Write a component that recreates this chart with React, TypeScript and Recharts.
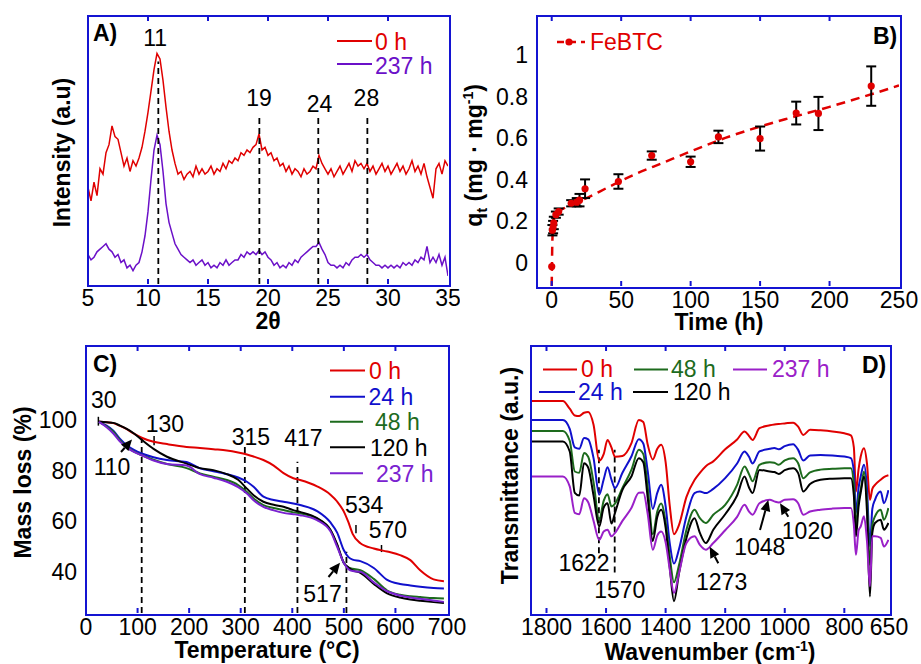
import React from "react";
import {
  LineChart,
  ComposedChart,
  Line,
  Scatter,
  ErrorBar,
  XAxis,
  YAxis,
  ReferenceLine,
  ReferenceDot,
} from "recharts";

// ---- A) XRD ----
const xrdAngle = [
  5, 5.25, 5.5, 5.75, 6, 6.25, 6.5, 6.75, 7, 7.25, 7.5, 7.75, 8, 8.25, 8.5, 8.75, 9, 9.25, 9.5, 9.75,
  10, 10.25, 10.5, 10.75, 11, 11.25, 11.5, 11.75, 12, 12.25, 12.5, 12.75, 13, 13.25, 13.5, 13.75, 14, 14.25, 14.5, 14.75,
  15, 15.25, 15.5, 15.75, 16, 16.25, 16.5, 16.75, 17, 17.25, 17.5, 17.75, 18, 18.25, 18.5, 18.75, 19, 19.25, 19.5, 19.75,
  20, 20.25, 20.5, 20.75, 21, 21.25, 21.5, 21.75, 22, 22.25, 22.5, 22.75, 23, 23.25, 23.5, 23.75, 24, 24.25, 24.5, 24.75,
  25, 25.25, 25.5, 25.75, 26, 26.25, 26.5, 26.75, 27, 27.25, 27.5, 27.75, 28, 28.25, 28.5, 28.75, 29, 29.25, 29.5, 29.75,
  30, 30.25, 30.5, 30.75, 31, 31.25, 31.5, 31.75, 32, 32.25, 32.5, 32.75, 33, 33.25, 33.5, 33.75, 34, 34.25, 34.5, 34.75,
  35,
];
const xrd0h = [
  36, 31, 38, 33, 43, 41, 49, 52, 59, 55, 54, 49, 44, 47, 42, 46, 44, 47, 51, 57,
  64, 72, 80, 86, 84, 76, 66, 57, 50, 45, 41, 42, 39, 41, 42, 40, 44, 41, 43, 41,
  42, 44, 41, 43, 42, 45, 43, 46, 45, 47, 46, 49, 48, 50, 49, 51, 52, 56, 50, 51,
  48, 49, 46, 47, 44, 45, 42, 44, 41, 43, 42, 40, 43, 41, 42, 44, 43, 48, 45, 43,
  41, 43, 40, 42, 44, 41, 43, 45, 42, 46, 44, 45, 43, 45, 42, 44, 41, 43, 45, 42,
  44, 41, 43, 45, 42, 44, 41, 43, 46, 42, 44, 41, 45, 40, 36, 32, 43, 45, 41, 46,
  44,
];
const xrd237h = [
  11, 9, 10, 12, 13, 14, 15, 13, 12, 10, 11, 8, 9, 6, 7, 5, 7, 8, 12, 18,
  27, 39, 50, 55.5, 52, 42, 30, 23, 19, 15, 13, 11, 10, 9, 8, 9, 7, 8, 9, 7,
  8, 6, 7, 6, 8, 7, 9, 7, 8, 9, 9, 11, 10, 12, 11, 12, 11, 12.5, 11, 12,
  10, 9, 7, 8, 6, 7, 6, 8, 7, 9, 8, 10, 11, 12, 13, 14, 14, 15.5, 13, 11,
  8, 7, 7, 6, 7, 6, 8, 7, 9, 10, 10, 11, 10, 11, 9, 8, 7, 7, 6, 7,
  6, 7, 6, 7, 6, 8, 7, 8, 7, 9, 8, 10, 9, 14, 8, 10, 8, 11, 7, 10,
  3,
];
const xrdTicks = [5, 10, 15, 20, 25, 30, 35];

// ---- B) uptake kinetics ----
const kinTime = [0, 0.5, 1, 1.5, 3, 5, 14, 18, 20, 24, 48, 72, 100, 120, 150, 176, 192, 230];
const kinQ = [-0.02, 0.155, 0.17, 0.19, 0.23, 0.245, 0.285, 0.29, 0.3, 0.355, 0.39, 0.515, 0.485, 0.605, 0.597, 0.72, 0.718, 0.85];
const kinErr = [null, 0.025, 0.03, 0.03, 0.015, 0.015, 0.015, 0.02, 0.03, 0.045, 0.035, 0.02, 0.025, 0.03, 0.058, 0.055, 0.08, 0.095];
const fitTime = [0, 0.3, 0.7, 1.2, 2, 3.5, 6, 10, 16, 25, 40, 60, 80, 100, 125, 150, 175, 200, 225, 250];
const fitQ = [-0.114, 0.05, 0.15, 0.2, 0.225, 0.24, 0.25, 0.265, 0.285, 0.31, 0.36, 0.425, 0.48, 0.535, 0.6, 0.655, 0.703, 0.75, 0.8, 0.853];
const kinTicksX = [0, 50, 100, 150, 200, 250];
const kinTicksY = [0, 0.2, 0.4, 0.6, 0.8, 1];

// ---- C) TGA ----
const tgaTemp = [25, 40, 53, 66, 79, 93, 108, 131, 157, 195, 221, 247, 273, 295, 312, 325, 344, 364, 383, 402, 415, 448, 474, 487, 500, 509, 517, 532, 558, 584, 609, 629, 648, 674, 694];
const tga0h = [99.3, 99.1, 98.8, 97.7, 96.4, 94.6, 93, 91.4, 90.5, 89.4, 89, 88.5, 88, 87.2, 86.4, 85.6, 84.2, 82, 79, 77, 76.3, 73.8, 70.5, 67.8, 63.8, 59.5, 55, 51.3, 49.2, 48, 46.6, 44.6, 40.6, 37, 36.3];
const tga24h = [99.3, 97.8, 95.8, 92.5, 90, 88.2, 86.8, 85.3, 84.2, 83.4, 80.9, 79.8, 78.6, 77.3, 75.6, 73.6, 69.7, 68.4, 67.7, 67, 66.4, 64, 59.5, 55.5, 48.5, 45.8, 44.8, 44.2, 41.5, 36.8, 35.2, 34.6, 34.1, 33.6, 33.4];
const tga48h = [99.3, 97.5, 95.4, 92, 89.4, 87.5, 86.1, 84.3, 82.6, 81, 78.9, 77.6, 76.3, 74.3, 71.6, 69, 66.4, 65.2, 64.4, 63.5, 63.1, 61, 56.5, 50.5, 43.5, 41.6, 41.2, 40.6, 37.2, 32.6, 30.9, 30.3, 30, 29.6, 29.4];
const tga120h = [99.4, 99.1, 98.9, 97.8, 96.5, 94.7, 92.2, 88.6, 85.5, 82.8, 81, 80.2, 78.6, 76.4, 72.9, 70.3, 67.7, 66.5, 65.7, 64.4, 63.7, 61.2, 56.5, 50.8, 43.5, 41.7, 40.6, 39.6, 35.2, 31.5, 29.8, 29, 28.5, 28, 27.7];
const tga237h = [99.3, 97.2, 94.7, 91.5, 89.2, 87.4, 86.1, 84, 82.6, 82, 78.6, 77.2, 75.6, 73.5, 71, 68.3, 65.7, 64.3, 63.3, 62.8, 62.4, 60.4, 56, 49.9, 43.5, 41, 40.3, 40, 35.8, 32.3, 30.6, 29.8, 29.3, 28.6, 28.1];
const tgaTicksX = [0, 100, 200, 300, 400, 500, 600, 700];
const tgaTicksY = [40, 60, 80, 100];

// ---- D) FTIR ----
const irWave = [
  1852, 1745, 1722, 1705, 1690, 1674, 1660, 1642, 1623, 1608, 1595, 1582, 1570, 1545, 1515, 1490, 1475, 1460, 1443, 1428,
  1415, 1400, 1386, 1372, 1355, 1330, 1303, 1285, 1265, 1240, 1200, 1160, 1135, 1120, 1108, 1085, 1050, 1035, 1020, 1000,
  972, 955, 938, 915, 880, 840, 800, 778, 768, 761, 752, 745, 734, 724, 714, 706, 697, 678, 667, 652,
];
const ir0h = [
  79.4, 79.4, 76.5, 74, 73.8, 75, 75.3, 70.5, 57, 59.5, 64.8, 62, 58.5, 58.8, 63.5, 72.3, 71.5, 63, 57.5, 61.5,
  63, 56.5, 40, 29.5, 33, 43.5, 49.8, 52.5, 55, 56.8, 61.3, 65, 68, 66.3, 64.8, 69.2, 70.3, 70.6, 70.8, 71,
  71.3, 69.8, 66.7, 68.6, 68.4, 68, 67.3, 66.5, 62, 45.5, 54, 58.6, 61.7, 56, 42.4, 46.5, 48, 49.9, 50.9, 51.6,
];
const ir24h = [
  72.3, 72.3, 69, 62, 61.5, 65.5, 65, 58, 44.3, 50, 54.6, 50, 46.8, 52.5, 58.6, 65.1, 63.5, 53, 39, 45,
  48, 40, 26, 18.5, 24, 36.2, 44.9, 45.5, 44.9, 46.5, 50.5, 56, 60.5, 58.5, 56, 60.5, 61.5, 61.8, 61.3, 62.5,
  63.2, 61.1, 57.1, 59, 59.2, 59, 58.6, 58, 53, 37.4, 47, 51.1, 55.5, 47, 25, 39, 42.4, 45.5, 41.1, 46,
];
const ir48h = [
  68.2, 68.2, 64.5, 53, 52.5, 59.9, 58.5, 49, 34.9, 42, 44.5, 39.9, 41, 46.8, 53.6, 61.1, 59.5, 47, 29.5, 38,
  41, 34, 21, 11.5, 18, 31.2, 38.7, 35.5, 33.7, 36.8, 40.5, 48, 54.9, 52, 49.3, 55.5, 56.5, 56.3, 55.5, 57.2,
  58, 56.1, 50.5, 52.7, 53.7, 54, 54.2, 54.2, 48, 32.4, 43, 46.1, 53, 42, 18, 33, 36.2, 38.7, 34.9, 39.3,
];
const ir120h = [
  64.2, 64.2, 60.5, 45, 44, 56.1, 54.5, 44, 32.4, 39.5, 41.1, 33.5, 37.5, 46.1, 51.1, 58, 56.5, 43, 27, 36,
  38.7, 32, 17, 4.4, 15, 28.1, 35.5, 30, 26.2, 31.2, 37, 44, 51.1, 47, 44.9, 53.6, 53, 52.8, 52.1, 53.5,
  54.2, 52.4, 45.5, 48.3, 49.9, 50.3, 50.5, 50.5, 44, 28.7, 40, 45, 51.1, 38, 6.2, 30, 33.7, 34.9, 31.2, 33.7,
];
const ir237h = [
  51.1, 51.1, 47.4, 37.5, 37, 43, 41.5, 34.5, 27.4, 30.5, 31.2, 28.7, 30, 34.5, 39.3, 45, 45.1, 37, 23.7, 29,
  30.5, 26.5, 16.2, 7.5, 15, 26.2, 28.7, 25.5, 23.7, 26.2, 31, 36, 40.5, 38, 36.8, 41.1, 42.4, 41.8, 41.4, 42.4,
  42.6, 41.1, 36.8, 38, 38.7, 39.1, 39.3, 39.3, 33, 21.8, 31, 32.4, 36.2, 27, 10, 28.7, 28.7, 28.1, 24.9, 27.4,
];
const irTicksX = [1800, 1600, 1400, 1200, 1000, 800, 650];

const FONT = "'Liberation Sans', Arial, sans-serif";
const FRAME = "rgb(20, 20, 210)";
const RED = "#e00000";
const BLUE = "#1010cc";
const GREEN = "#1d6b1d";
const PURPLE_A = "#6b10c8";
const PURPLE_C = "#7a22d0";
const PURPLE_D = "#9a20c8";

const xrdRows = xrdAngle.map((a, i) => ({ a, r: xrd0h[i], p: xrd237h[i] }));
const kinRows = kinTime.map((t, i) => ({ t, q: kinQ[i], err: kinErr[i] }));
const fitRows = fitTime.map((t, i) => ({ t, q: fitQ[i] }));
const tgaRows = tgaTemp.map((T, i) => ({ T, h0: tga0h[i], h24: tga24h[i], h48: tga48h[i], h120: tga120h[i], h237: tga237h[i] }));
const irRows = irWave.map((w, i) => ({ w, h0: ir0h[i], h24: ir24h[i], h48: ir48h[i], h120: ir120h[i], h237: ir237h[i] }));

// annotation positions (data coordinates)
const xrdMarks = [
  { x: 10.86, top: 83, lx: 10.6, ly: 91.8, text: "11" },
  { x: 19.28, top: 63, lx: 19.26, ly: 69.5, text: "19" },
  { x: 24.19, top: 62.3, lx: 24.3, ly: 67.4, text: "24" },
  { x: 28.28, top: 63, lx: 28.2, ly: 69.5, text: "28" },
];
const tgaDashes = [
  { x: 108, top: 93.1 },
  { x: 308, top: 90 },
  { x: 410, top: 83.5 },
  { x: 505, top: 47.9 },
];
const tgaTicks = [
  { x: 24, y1: 97.8, y2: 101.3 },
  { x: 132, y1: 90, y2: 93.7 },
  { x: 523.5, y1: 55.2, y2: 58.5 },
  { x: 573, y1: 47.8, y2: 50.6 },
];
const tgaLabels = [
  { x: 34.3, y: 107.9, text: "30" },
  { x: 153, y: 98.7, text: "130" },
  { x: 50.4, y: 81.6, text: "110" },
  { x: 319.6, y: 93.6, text: "315" },
  { x: 421.4, y: 92.9, text: "417" },
  { x: 539.4, y: 66.4, text: "534" },
  { x: 585.3, y: 56.5, text: "570" },
  { x: 458.6, y: 31.5, text: "517" },
];
const irDashes = [
  { x: 1624, y1: 22.4, y2: 61.1 },
  { x: 1571, y1: 15.2, y2: 61.1 },
];
const irLabels = [
  { x: 1674, y: 18.9, text: "1622" },
  { x: 1554, y: 8.6, text: "1570" },
  { x: 1212, y: 11.7, text: "1273" },
  { x: 1084, y: 24.8, text: "1048" },
  { x: 924, y: 30.9, text: "1020" },
];

// plot boxes in page pixels: [left, top, right, bottom]
const frames = [
  [88, 16, 448, 284],
  [537, 16, 899, 286],
  [86, 346, 447, 613],
  [531, 346, 889, 613],
];

const makeXTick = (top: number, edges: number[]) => (props: any) => {
  const { x, y, payload } = props;
  const v = payload.value;
  const inner = !edges.includes(v);
  return (
    <g>
      {inner && <path d={`M${x},${y}V${y - 5}`} stroke="rgb(20, 20, 210)" strokeWidth={2} fill="none" />}
      {inner && <path d={`M${x},${top}V${top + 5}`} stroke="rgb(20, 20, 210)" strokeWidth={2} fill="none" />}
      <text x={x} y={y + 22} textAnchor="middle" fontFamily={FONT} fontSize={23} fill="#000">
        {v}
      </text>
    </g>
  );
};

const tag = (key: string, x: number, y: number, text: string) => (
  <ReferenceDot
    key={key}
    x={x}
    y={y}
    r={0}
    ifOverflow="visible"
    shape={(p: any) => (
      <text x={p.cx} y={p.cy} dy="0.36em" textAnchor="middle" fontFamily={FONT} fontSize={23} fill="#000">
        {text}
      </text>
    )}
  />
);

const seg = (key: string, x: number, y1: number, y2: number, dashed = true) => (
  <ReferenceLine
    key={key}
    segment={[{ x, y: y1 }, { x, y: y2 }]}
    stroke="#000"
    strokeWidth={dashed ? 1.8 : 1.5}
    strokeDasharray={dashed ? "6 4" : undefined}
    ifOverflow="visible"
  />
);

const yTick = { fill: "#000", fontSize: 23, fontFamily: FONT };

function Txt({ x, y, color = "#000", bold = false, children }: any) {
  return (
    <div
      style={{
        position: "absolute",
        left: x,
        top: y - 11.5,
        fontFamily: FONT,
        fontSize: 23,
        lineHeight: "23px",
        color,
        fontWeight: bold ? 700 : 400,
        whiteSpace: "nowrap",
      }}
    >
      {children}
    </div>
  );
}

function VTxt({ x, y, w, children }: any) {
  return (
    <div
      style={{
        position: "absolute",
        left: x - w / 2,
        top: y - 11.5,
        width: w,
        textAlign: "center",
        fontFamily: FONT,
        fontSize: 23,
        lineHeight: "23px",
        fontWeight: 700,
        whiteSpace: "nowrap",
        transform: "rotate(-90deg)",
      }}
    >
      {children}
    </div>
  );
}

function CTxt({ x, y, children }: any) {
  return (
    <div
      style={{
        position: "absolute",
        left: x - 150,
        top: y - 11.5,
        width: 300,
        textAlign: "center",
        fontFamily: FONT,
        fontSize: 23,
        lineHeight: "23px",
        fontWeight: 700,
        whiteSpace: "nowrap",
      }}
    >
      {children}
    </div>
  );
}

function Arrow({ x1, y1, x2, y2 }: any) {
  const dx = x2 - x1;
  const dy = y2 - y1;
  const len = Math.hypot(dx, dy);
  const ux = dx / len;
  const uy = dy / len;
  const bx = x2 - ux * 11;
  const by = y2 - uy * 11;
  const nx = -uy * 5;
  const ny = ux * 5;
  return (
    <g>
      <line x1={x1} y1={y1} x2={bx} y2={by} stroke="#000" strokeWidth={2} />
      <polygon points={`${x2},${y2} ${bx + nx},${by + ny} ${bx - nx},${by - ny}`} fill="#000" />
    </g>
  );
}

const sup: React.CSSProperties = { fontSize: 14, verticalAlign: "super", lineHeight: 0 };
const sub: React.CSSProperties = { fontSize: 15, verticalAlign: "sub", lineHeight: 0 };

export default function App() {
  return (
    <div style={{ position: "absolute", left: 0, top: 0, width: 921, height: 664, background: "#fff", overflow: "hidden" }}>
      {/* A */}
      <div style={{ position: "absolute", left: 0, top: 0 }}>
        <LineChart width={460} height={330} data={xrdRows} margin={{ top: 16, right: 12, bottom: 16, left: 88 }}>
          <XAxis
            dataKey="a"
            type="number"
            domain={[5, 35]}
            ticks={xrdTicks}
            interval={0}
            height={30}
            tickSize={0}
            tickMargin={0}
            axisLine={false}
            tickLine={false}
            tick={makeXTick(16, [5, 35])}
            allowDataOverflow
          />
          <YAxis type="number" domain={[0, 100]} hide allowDataOverflow />
          <Line dataKey="r" type="linear" stroke={RED} strokeWidth={1.5} dot={false} isAnimationActive={false} />
          <Line dataKey="p" type="linear" stroke={PURPLE_A} strokeWidth={1.5} dot={false} isAnimationActive={false} />
          {xrdMarks.map((m) => seg("a" + m.text, m.x, 0, m.top))}
          {xrdMarks.map((m) => tag("al" + m.text, m.lx, m.ly, m.text))}
        </LineChart>
      </div>

      {/* B */}
      <div style={{ position: "absolute", left: 460, top: 0 }}>
        <ComposedChart width={461} height={330} margin={{ top: 16, right: 22, bottom: 14, left: 17 }}>
          <XAxis
            dataKey="t"
            type="number"
            domain={[-10.6, 250]}
            ticks={kinTicksX}
            interval={0}
            height={30}
            tickSize={0}
            tickMargin={0}
            axisLine={false}
            tickLine={false}
            tick={makeXTick(16, [250])}
            allowDataOverflow
          />
          <YAxis
            type="number"
            domain={[-0.114, 1.188]}
            ticks={kinTicksY}
            interval={0}
            width={60}
            tickSize={0}
            tickMargin={9}
            axisLine={false}
            tickLine={false}
            tick={yTick}
            allowDataOverflow
          />
          <Line
            data={fitRows}
            dataKey="q"
            type="monotone"
            stroke={RED}
            strokeWidth={2.5}
            strokeDasharray="9 6"
            dot={false}
            isAnimationActive={false}
          />
          <Scatter
            data={kinRows}
            dataKey="q"
            fill={RED}
            isAnimationActive={false}
            shape={(p: any) => <circle cx={p.cx} cy={p.cy} r={3.6} fill={RED} />}
          >
            <ErrorBar dataKey="err" direction="y" width={5} stroke="#000" strokeWidth={2} isAnimationActive={false} />
          </Scatter>
        </ComposedChart>
      </div>

      {/* C */}
      <div style={{ position: "absolute", left: 0, top: 330 }}>
        <LineChart width={476} height={334} data={tgaRows} margin={{ top: 16, right: 29, bottom: 21, left: 26 }}>
          <XAxis
            dataKey="T"
            type="number"
            domain={[0, 700]}
            ticks={tgaTicksX}
            interval={0}
            height={30}
            tickSize={0}
            tickMargin={0}
            axisLine={false}
            tickLine={false}
            tick={makeXTick(16, [0, 700])}
            allowDataOverflow
          />
          <YAxis
            type="number"
            domain={[23.7, 129.3]}
            ticks={tgaTicksY}
            interval={0}
            width={60}
            tickSize={0}
            tickMargin={9}
            axisLine={false}
            tickLine={false}
            tick={yTick}
            allowDataOverflow
          />
          {tgaDashes.map((d, i) => seg("cd" + i, d.x, 23.7, d.top))}
          {tgaTicks.map((d, i) => seg("ct" + i, d.x, d.y1, d.y2, false))}
          <Line dataKey="h0" type="monotone" stroke={RED} strokeWidth={2} dot={false} isAnimationActive={false} />
          <Line dataKey="h24" type="monotone" stroke={BLUE} strokeWidth={2} dot={false} isAnimationActive={false} />
          <Line dataKey="h48" type="monotone" stroke={GREEN} strokeWidth={2} dot={false} isAnimationActive={false} />
          <Line dataKey="h120" type="monotone" stroke="#000" strokeWidth={2} dot={false} isAnimationActive={false} />
          <Line dataKey="h237" type="monotone" stroke={PURPLE_C} strokeWidth={2} dot={false} isAnimationActive={false} />
          {tgaLabels.map((l) => tag("cl" + l.text, l.x, l.y, l.text))}
        </LineChart>
      </div>

      {/* D */}
      <div style={{ position: "absolute", left: 460, top: 330 }}>
        <LineChart width={461} height={334} data={irRows} margin={{ top: 16, right: 32, bottom: 21, left: 71 }}>
          <XAxis
            dataKey="w"
            type="number"
            domain={[650, 1852]}
            reversed
            ticks={irTicksX}
            interval={0}
            height={30}
            tickSize={0}
            tickMargin={0}
            axisLine={false}
            tickLine={false}
            tick={makeXTick(16, [650])}
            allowDataOverflow
          />
          <YAxis type="number" domain={[0, 100]} hide allowDataOverflow />
          {irDashes.map((d, i) => seg("dd" + i, d.x, d.y1, d.y2))}
          <Line dataKey="h0" type="monotone" stroke={RED} strokeWidth={2} dot={false} isAnimationActive={false} />
          <Line dataKey="h24" type="monotone" stroke={BLUE} strokeWidth={2} dot={false} isAnimationActive={false} />
          <Line dataKey="h48" type="monotone" stroke={GREEN} strokeWidth={2} dot={false} isAnimationActive={false} />
          <Line dataKey="h120" type="monotone" stroke="#000" strokeWidth={2} dot={false} isAnimationActive={false} />
          <Line dataKey="h237" type="monotone" stroke={PURPLE_D} strokeWidth={2} dot={false} isAnimationActive={false} />
          {irLabels.map((l) => tag("dl" + l.text, l.x, l.y, l.text))}
        </LineChart>
      </div>

      {/* plot frames */}
      {frames.map(([l, t, r, b], i) => (
        <div
          key={i}
          style={{
            position: "absolute",
            left: l - 1,
            top: t - 1,
            width: r - l,
            height: b - t,
            border: "2px solid rgb(20, 20, 210)",
            pointerEvents: "none",
          }}
        />
      ))}

      {/* legend lines, arrows */}
      <svg width={921} height={664} style={{ position: "absolute", left: 0, top: 0, pointerEvents: "none" }}>
        <line x1={337} x2={372} y1={41} y2={41} stroke={RED} strokeWidth={2} />
        <line x1={337} x2={372} y1={64} y2={64} stroke={PURPLE_A} strokeWidth={2} />

        <line x1={557} x2={585} y1={42} y2={42} stroke={RED} strokeWidth={2.5} strokeDasharray="7 5" />
        <circle cx={569} cy={42} r={3.6} fill={RED} />

        <line x1={330} x2={365} y1={370.5} y2={370.5} stroke={RED} strokeWidth={2} />
        <line x1={330} x2={365} y1={396.7} y2={396.7} stroke={BLUE} strokeWidth={2} />
        <line x1={330} x2={363} y1={421.7} y2={421.7} stroke={GREEN} strokeWidth={2} />
        <line x1={330} x2={365} y1={447.3} y2={447.3} stroke="#000" strokeWidth={2} />
        <line x1={330} x2={363} y1={473.3} y2={473.3} stroke={PURPLE_C} strokeWidth={2} />

        <line x1={543} x2={577} y1={369.5} y2={369.5} stroke={RED} strokeWidth={2} />
        <line x1={634} x2={668} y1={369.5} y2={369.5} stroke={GREEN} strokeWidth={2} />
        <line x1={733} x2={767} y1={369.5} y2={369.5} stroke={PURPLE_D} strokeWidth={2} />
        <line x1={539} x2={575} y1={392} y2={392} stroke={BLUE} strokeWidth={2} />
        <line x1={633} x2={668} y1={392} y2={392} stroke="#000" strokeWidth={2} />

        <Arrow x1={121} y1={452} x2={132} y2={439.5} />
        <Arrow x1={328.5} y1={577} x2={340} y2={562.7} />
        <Arrow x1={718.3} y1={563.3} x2={709.7} y2={546.7} />
        <Arrow x1={760} y1={530} x2={768.3} y2={500} />
        <Arrow x1={788.3} y1={516.7} x2={780} y2={503.3} />
      </svg>

      {/* panel letters */}
      <Txt x={93} y={33} bold>A)</Txt>
      <Txt x={873} y={36} bold>B)</Txt>
      <Txt x={93} y={364} bold>C)</Txt>
      <Txt x={862} y={365} bold>D)</Txt>

      {/* legend texts */}
      <Txt x={375} y={42} color={RED}>0 h</Txt>
      <Txt x={375} y={66} color={PURPLE_A}>237 h</Txt>
      <Txt x={590} y={42} color={RED}>FeBTC</Txt>

      <Txt x={369} y={371.5} color={RED}>0 h</Txt>
      <Txt x={368.5} y={397} color={BLUE}>24 h</Txt>
      <Txt x={375} y={422} color={GREEN}>48 h</Txt>
      <Txt x={370} y={448} color="#000">120 h</Txt>
      <Txt x={376} y={474} color={PURPLE_C}>237 h</Txt>

      <Txt x={581} y={369.5} color={RED}>0 h</Txt>
      <Txt x={671} y={369.5} color={GREEN}>48 h</Txt>
      <Txt x={772} y={369.5} color={PURPLE_D}>237 h</Txt>
      <Txt x={578} y={392} color={BLUE}>24 h</Txt>
      <Txt x={673} y={392} color="#000">120 h</Txt>

      {/* axis titles */}
      <CTxt x={268} y={321}>2θ</CTxt>
      <VTxt x={62} y={152} w={200}>Intensity (a.u)</VTxt>
      <CTxt x={719} y={322}>Time (h)</CTxt>
      <VTxt x={474} y={155} w={200}>
        q<span style={sub}>t</span> (mg · mg<span style={sup}>-1</span>)
      </VTxt>
      <CTxt x={267} y={650}>Temperature (°C)</CTxt>
      <VTxt x={23} y={482} w={200}>Mass loss (%)</VTxt>
      <CTxt x={710} y={652}>
        Wavenumber (cm<span style={sup}>-1</span>)
      </CTxt>
      <VTxt x={510} y={475} w={260}>Transmittance (a.u.)</VTxt>
    </div>
  );
}
